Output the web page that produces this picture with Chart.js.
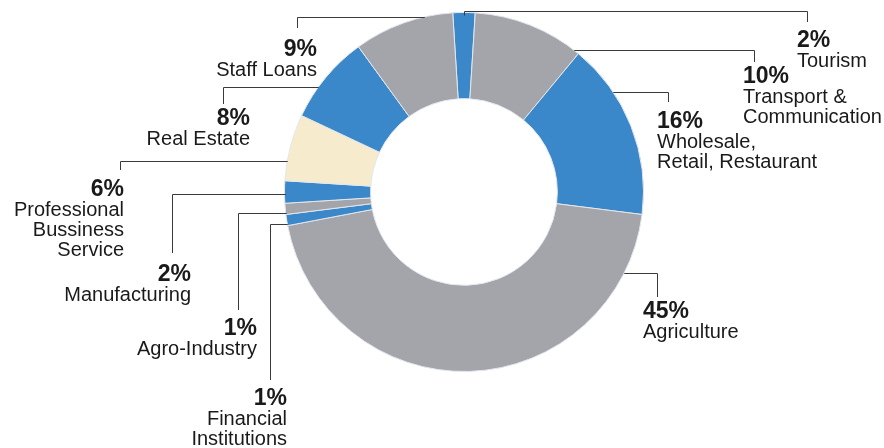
<!DOCTYPE html>
<html>
<head>
<meta charset="utf-8">
<script src="https://cdn.jsdelivr.net/npm/chart.js@4/dist/chart.umd.min.js"></script>
<style>
  html, body { margin: 0; padding: 0; background: #fff; }
  canvas { display: block; }
</style>
</head>
<body>
<canvas id="loanChart" width="884" height="448"></canvas>
<script>
// loan portfolio by sector, clockwise from the top
const sectors = ['Tourism', 'Transport & Communication', 'Wholesale, Retail, Restaurant', 'Agriculture',
  'Financial Institutions', 'Agro-Industry', 'Manufacturing', 'Professional Bussiness Service',
  'Real Estate', 'Staff Loans'];
const shares = [2, 10, 16, 45, 1, 1, 2, 6, 8, 9];
const labelLines = [
  ['Tourism'],
  ['Transport &', 'Communication'],
  ['Wholesale,', 'Retail, Restaurant'],
  ['Agriculture'],
  ['Financial', 'Institutions'],
  ['Agro-Industry'],
  ['Manufacturing'],
  ['Professional', 'Bussiness', 'Service'],
  ['Real Estate'],
  ['Staff Loans']
];

const BLUE = '#3a87c9';
const GREY = '#a3a5ab';
const CREAM = '#f6ebcd';
const sliceColors = [BLUE, GREY, BLUE, GREY, BLUE, GREY, BLUE, CREAM, BLUE, GREY];

// where each callout line runs and where its text sits
const callouts = [
  { lineY: 11, elbowX: 807, dropY: 22, textX: 797, baseY: 47, align: 'left' },
  { lineY: 50, elbowX: 754, dropY: 62, textX: 743, baseY: 83, align: 'left' },
  { lineY: 92, elbowX: 668, dropY: 102, textX: 657, baseY: 128, align: 'left' },
  { lineY: 273, elbowX: 657, dropY: 297, textX: 643, baseY: 318, align: 'left' },
  { lineY: 224, elbowX: 270, dropY: 380, textX: 287, baseY: 405, align: 'right' },
  { lineY: 213, elbowX: 238, dropY: 310, textX: 257, baseY: 335, align: 'right' },
  { lineY: 194, elbowX: 172, dropY: 253, textX: 191, baseY: 281, align: 'right' },
  { lineY: 161, elbowX: 120, dropY: 170, textX: 124, baseY: 196, align: 'right' },
  { lineY: 87, elbowX: 223, dropY: 104, textX: 250, baseY: 125, align: 'right' },
  { lineY: 17, elbowX: 297, dropY: 28, textX: 317, baseY: 56, align: 'right' }
];

const calloutPlugin = {
  id: 'callouts',
  afterDraw(chart) {
    const ctx = chart.ctx;
    const meta = chart.getDatasetMeta(0);
    ctx.save();
    ctx.strokeStyle = '#3a3a3a';
    ctx.lineWidth = 1;
    ctx.fillStyle = '#1a1a1a';
    meta.data.forEach((arc, i) => {
      const c = callouts[i];
      const r = arc.outerRadius;
      const dy = c.lineY - arc.y;
      let sx, sy;
      if (Math.abs(dy) < r - 1) {
        sx = arc.x + Math.sign(c.elbowX - arc.x) * Math.sqrt(r * r - dy * dy);
        sy = c.lineY;
      } else {
        const mid = (arc.startAngle + arc.endAngle) / 2;
        sx = arc.x + (r - 3) * Math.cos(mid);
        sy = arc.y + (r - 3) * Math.sin(mid);
      }
      const px = Math.round(sx) + 0.5;
      const ex = Math.round(c.elbowX) + 0.5;
      const ly = Math.round(c.lineY) + 0.5;
      ctx.beginPath();
      ctx.moveTo(px, sy);
      ctx.lineTo(px, ly);
      ctx.lineTo(ex, ly);
      ctx.lineTo(ex, c.dropY);
      ctx.stroke();

      ctx.textAlign = c.align;
      ctx.textBaseline = 'alphabetic';
      ctx.font = 'bold 23px "Liberation Sans", Arial, sans-serif';
      ctx.fillText(shares[i] + '%', c.textX, c.baseY);
      ctx.font = '20px "Liberation Sans", Arial, sans-serif';
      labelLines[i].forEach((line, k) => {
        ctx.fillText(line, c.textX, c.baseY + 20 * (k + 1));
      });
    });
    ctx.restore();
  }
};

new Chart(document.getElementById('loanChart'), {
  type: 'doughnut',
  data: {
    labels: sectors,
    datasets: [{
      data: shares,
      backgroundColor: sliceColors,
      borderColor: '#e3e7ec',
      borderWidth: 1
    }]
  },
  options: {
    responsive: false,
    animation: false,
    rotation: -shares[0] * 1.8,
    cutout: '52%',
    layout: { padding: { left: 284, right: 240, top: 12, bottom: 76 } },
    plugins: {
      legend: { display: false },
      tooltip: { enabled: false }
    }
  },
  plugins: [calloutPlugin]
});
</script>
</body>
</html>
